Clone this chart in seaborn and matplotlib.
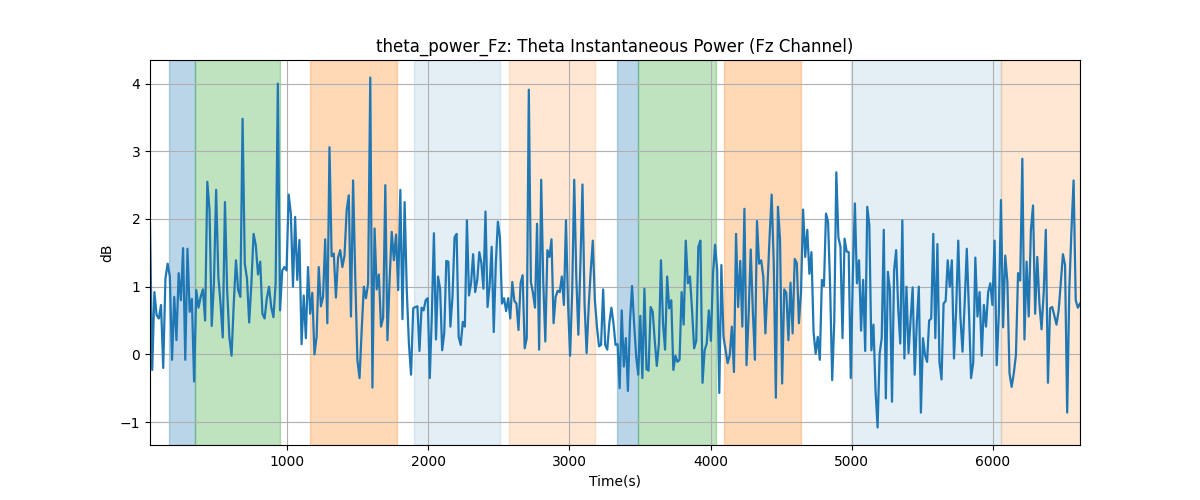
import numpy as np
import matplotlib
matplotlib.use("Agg")
import matplotlib.pyplot as plt
import seaborn as sns

# Theta power trace (dB) in chunks;
# each chunk is regularly sampled between its start and end time
chunk_bounds = [28, 965, 1908, 2858, 3809, 4759, 5709, 6617]

chunk_1 = [
    1.93, -0.23, 0.92, 0.58, 0.53, 0.73, -0.2, 1.12, 1.34, 1.15, -0.08, 0.85, 0.21, 1.2, 0.8,
    1.57, -0.08, 1.56, 0.63, 0.82, -0.4, 0.95, 0.69, 0.85, 0.96, 0.5, 2.55, 2.13, 0.42, 1.05,
    2.43, 1.15, 0.75, 0.25, 2.25, 0.95, 0.26, -0.02, 0.75, 1.39, 0.95, 0.85, 3.48, 1.34, 1.12,
    0.47, 1.05, 1.78, 1.61, 1.18, 1.37, 0.6, 0.53, 0.83, 1.0, 0.7, 0.55, 1.05, 4.0, 0.65,
]
chunk_2 = [
    1.24, 1.29, 1.24, 2.36, 2.08, 1.0, 2.03, 1.1, 1.69, 0.15, 0.87, 0.24, 1.29, 0.6, 0.91,
    0.0, 0.26, 1.29, 0.71, 0.85, 1.7, 0.46, 3.06, 1.45, 1.49, 0.84, 1.43, 1.54, 1.29, 1.46,
    2.13, 2.35, 0.56, 2.57, 1.15, -0.08, -0.35, 0.36, 1.0, 0.83, 1.05, 4.09, -0.49, 1.86, 0.96,
    1.18, 0.41, 0.54, 2.5, 0.21, 1.1, 1.81, 1.39, 1.77, 0.95, 2.43, 0.52, 2.25, 0.95, 0.16,
    -0.3, 0.68,
]
chunk_3 = [
    0.7, 0.71, 0.05, 0.69, 0.65, 0.8, 0.83, -0.35, 0.6, 1.79, 0.22, 1.15, 0.97, 0.06, 0.31,
    1.38, 1.37, 0.41, 0.85, 1.73, 1.78, 0.26, 0.14, 0.48, 0.41, 1.98, 0.87, 1.05, 1.48, 0.92,
    1.1, 1.51, 1.35, 0.97, 2.11, 0.7, 1.02, 1.59, 0.33, 1.34, 1.96, 1.73, 0.75, 0.83, 0.64,
    0.83, 0.53, 1.07, 0.79, 0.75, 0.36, 1.05, 1.17, 0.09, 0.24, 3.91, 1.07, 0.91, 0.69, 1.93,
    0.07, 2.58, 1.07, 0.19, 1.54,
]
chunk_4 = [
    1.44, 1.7, 0.46, 0.85, 0.94, 0.92, 1.15, 0.73, 1.98, 0.75, -0.02, 0.91, 2.58, 1.15, 0.29,
    1.34, 2.51, 0.75, 0.02, 0.7, 1.24, 1.68, 0.8, 0.41, 0.12, 0.14, 0.96, 0.14, 0.07, 0.46,
    0.69, 0.46, 0.14, 0.15, -0.5, 0.65, -0.18, 0.24, -0.54, 0.48, 1.01, 0.46, -0.03, -0.3, 0.57,
    -0.35, 0.97, -0.22, -0.24, 0.7, 0.63, 0.2, -0.17, 0.16, 1.39, 0.46, 0.07, 1.15, 0.68, 0.8,
    -0.23, -0.02, -0.11, -0.08, 0.92,
]
chunk_5 = [
    0.44, 1.68, 1.05, 1.15, 0.65, 0.09, 0.2, 1.59, 1.68, -0.42, 0.06, 0.16, 0.65, 0.2, 1.19,
    1.62, 1.24, -0.57, 1.32, 0.26, 0.06, -0.13, -0.01, 0.41, -0.26, 1.78, 0.7, 1.38, 0.41, 2.15,
    -0.16, 0.58, 1.55, 0.65, -0.08, 1.97, 1.34, 1.39, 1.15, 0.31, 1.0, 1.73, 2.36, 1.34, -0.64,
    2.18, 1.69, -0.43, 0.96, 0.91, 0.21, 1.06, 0.31, 1.41, 1.35, 0.46, 0.91, 2.14, 1.44, 1.84,
    1.19, 1.51, 0.33, 0.01,
]
chunk_6 = [
    0.26, -0.08, 1.1, 1.01, 2.08, 1.96, 1.0, -0.38, 0.48, 2.69, 1.73, 1.59, 0.24, 1.71, 1.52,
    1.51, -0.35, 1.15, 2.23, 1.05, 1.39, 0.35, 1.1, 0.05, 2.18, 1.91, 0.06, 0.44, -0.53, -1.08,
    0.01, 0.24, 1.84, -0.65, 1.22, 0.95, -0.7, 1.24, 1.54, 0.68, 0.16, 1.98, -0.06, 1.0, 0.02,
    0.5, 0.99, -0.3, 0.46, 1.0, -0.86, 0.24, -0.01, -0.11, 0.5, 0.53, 1.78, 0.24, 1.63, -0.11,
    -0.37, 0.75, 0.79, 1.39, 1.0,
]
chunk_7 = [
    1.39, -0.06, 0.65, 1.68, 0.56, 0.04, 0.75, 1.56, 0.65, -0.35, -0.13, 1.43, 0.56, 0.92, -0.02,
    0.73, 0.41, 0.92, 1.05, 0.73, 1.68, -0.16, 0.6, 2.28, 0.4, 1.46, 1.07, -0.28, -0.48, -0.28,
    -0.01, 1.2, 1.09, 2.89, 0.22, 1.37, 0.56, 1.83, 2.2, 0.6, 1.44, 0.75, 0.37, 0.91, 1.84,
    -0.42, 0.68, 0.7, 0.57, 0.44, 0.65, 1.05, 1.48, 1.32, -0.86, 0.97, 1.83, 2.57, 0.8, 0.69,
    0.75,
]
chunks = [chunk_1, chunk_2, chunk_3, chunk_4, chunk_5, chunk_6, chunk_7]

time_s = []
power_db = []
for i, vals in enumerate(chunks):
    last = i == len(chunks) - 1
    t = np.linspace(chunk_bounds[i], chunk_bounds[i + 1], len(vals), endpoint=last)
    time_s.extend(t)
    power_db.extend(vals)

# Shaded task segments
seg_start = [163, 348, 1163, 1900, 2575, 3340, 3482, 4092, 4993, 6057]
seg_end = [348, 950, 1780, 2510, 3184, 3482, 4035, 4638, 6057, 6617]
seg_color = ["C0", "C2", "C1", "C0", "C1", "C0", "C2", "C1", "C0", "C1"]
seg_alpha = [0.3, 0.3, 0.3, 0.12, 0.18, 0.3, 0.3, 0.3, 0.12, 0.18]

fig, ax = plt.subplots(figsize=(12, 5), dpi=100)

for s, e, c, a in zip(seg_start, seg_end, seg_color, seg_alpha):
    ax.axvspan(s, e, color=c, alpha=a)

sns.lineplot(x=time_s, y=power_db, ax=ax, color="C0", linewidth=1.6)

ax.set_xlim(chunk_bounds[0], chunk_bounds[-1])
ax.set_title("theta_power_Fz: Theta Instantaneous Power (Fz Channel)")
ax.set_xlabel("Time(s)")
ax.set_ylabel("dB")
ax.grid(True)

plt.savefig("out.png")
